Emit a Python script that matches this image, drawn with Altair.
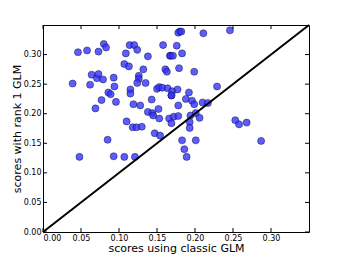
import altair as alt
import pandas as pd

# data
classic = [0.039, 0.046, 0.058, 0.073, 0.080, 0.083, 0.064, 0.071, 0.073, 0.079,
           0.062, 0.077, 0.069, 0.086, 0.089, 0.093, 0.094, 0.096, 0.109, 0.114,
           0.120, 0.124, 0.107, 0.113, 0.126, 0.126, 0.124, 0.132, 0.135, 0.138,
           0.115, 0.115, 0.119, 0.128, 0.143, 0.138, 0.144, 0.145, 0.152, 0.153,
           0.110, 0.118, 0.123, 0.130, 0.158, 0.167, 0.150, 0.153, 0.157, 0.161,
           0.163, 0.164, 0.169, 0.170, 0.177, 0.192, 0.188, 0.196, 0.199, 0.210,
           0.217, 0.178, 0.166, 0.172, 0.178, 0.169, 0.194, 0.201, 0.206, 0.193,
           0.193, 0.147, 0.154, 0.183, 0.201, 0.186, 0.189, 0.121, 0.048, 0.085,
           0.093, 0.107, 0.180, 0.178, 0.182, 0.211, 0.246, 0.176, 0.183, 0.168,
           0.171, 0.179, 0.199, 0.229, 0.253, 0.258, 0.268, 0.287, 0.169]
rank1 = [0.251, 0.304, 0.307, 0.305, 0.318, 0.312, 0.266, 0.260, 0.267, 0.258,
         0.249, 0.223, 0.209, 0.236, 0.233, 0.261, 0.246, 0.220, 0.302, 0.316,
         0.316, 0.308, 0.284, 0.280, 0.264, 0.259, 0.252, 0.275, 0.252, 0.297,
         0.241, 0.234, 0.216, 0.214, 0.224, 0.203, 0.201, 0.197, 0.208, 0.192,
         0.187, 0.177, 0.177, 0.178, 0.316, 0.298, 0.242, 0.245, 0.244, 0.275,
         0.271, 0.243, 0.231, 0.238, 0.241, 0.236, 0.225, 0.222, 0.216, 0.219,
         0.218, 0.214, 0.192, 0.195, 0.196, 0.184, 0.197, 0.201, 0.193, 0.186,
         0.176, 0.167, 0.163, 0.155, 0.155, 0.140, 0.127, 0.127, 0.127, 0.156,
         0.128, 0.127, 0.339, 0.337, 0.339, 0.336, 0.341, 0.315, 0.302, 0.298,
         0.298, 0.277, 0.271, 0.246, 0.189, 0.182, 0.185, 0.154, 0.231]
diag = [0.0, 0.35]
tick_values = [0.0, 0.05, 0.10, 0.15, 0.20, 0.25, 0.30]

W, H = 266, 207
FONT = "DejaVu Sans"

pts = pd.DataFrame({"classic": classic, "rank1": rank1})
line_df = pd.DataFrame({"classic": diag, "rank1": diag})
ticks_df = pd.DataFrame({"classic": tick_values, "rank1": tick_values})

xscale = alt.Scale(domain=[0, 0.35], nice=False, zero=False)
yscale = alt.Scale(domain=[0, 0.35], nice=False, zero=False)

xaxis = alt.Axis(title="scores using classic GLM", values=tick_values, format=".2f",
                 grid=False, ticks=False, domain=False, labelPadding=2,
                 labelFontSize=8, titleFontSize=11, titleFont=FONT, labelFont=FONT,
                 labelColor="#000", titleColor="#000", titleFontWeight="normal",
                 titlePadding=0)
yaxis = alt.Axis(title="scores with rank 1 GLM", values=tick_values, format=".2f",
                 grid=False, ticks=False, domain=False, labelPadding=2,
                 labelFontSize=8, titleFontSize=11, titleFont=FONT, labelFont=FONT,
                 labelColor="#000", titleColor="#000", titleFontWeight="normal",
                 titlePadding=1)

X = alt.X("classic:Q", scale=xscale, axis=xaxis)
Y = alt.Y("rank1:Q", scale=yscale, axis=yaxis)

points = alt.Chart(pts).mark_circle(
    size=50, color="#3535ff", fillOpacity=0.8, stroke="#000022",
    strokeOpacity=0.6, strokeWidth=0.7
).encode(x=X, y=Y)

line = alt.Chart(line_df).mark_line(color="black", strokeWidth=2).encode(x=X, y=Y)

tx_bottom = alt.Chart(ticks_df).mark_rule(color="black", strokeWidth=1).encode(
    x=X, y=alt.value(H), y2=alt.value(H - 4))
tx_top = alt.Chart(ticks_df).mark_rule(color="black", strokeWidth=1).encode(
    x=X, y=alt.value(0), y2=alt.value(4))
ty_left = alt.Chart(ticks_df).mark_rule(color="black", strokeWidth=1).encode(
    y=Y, x=alt.value(0), x2=alt.value(4))
ty_right = alt.Chart(ticks_df).mark_rule(color="black", strokeWidth=1).encode(
    y=Y, x=alt.value(W), x2=alt.value(W - 4))

chart = alt.layer(points, line, tx_bottom, tx_top, ty_left, ty_right).properties(
    width=W, height=H,
    autosize=alt.AutoSizeParams(type="none"),
    padding={"left": 35, "top": 17, "right": 20, "bottom": 26},
).configure_view(stroke="black", strokeWidth=1)

chart.save("out.html", embed_options={"renderer": "svg", "actions": False})
